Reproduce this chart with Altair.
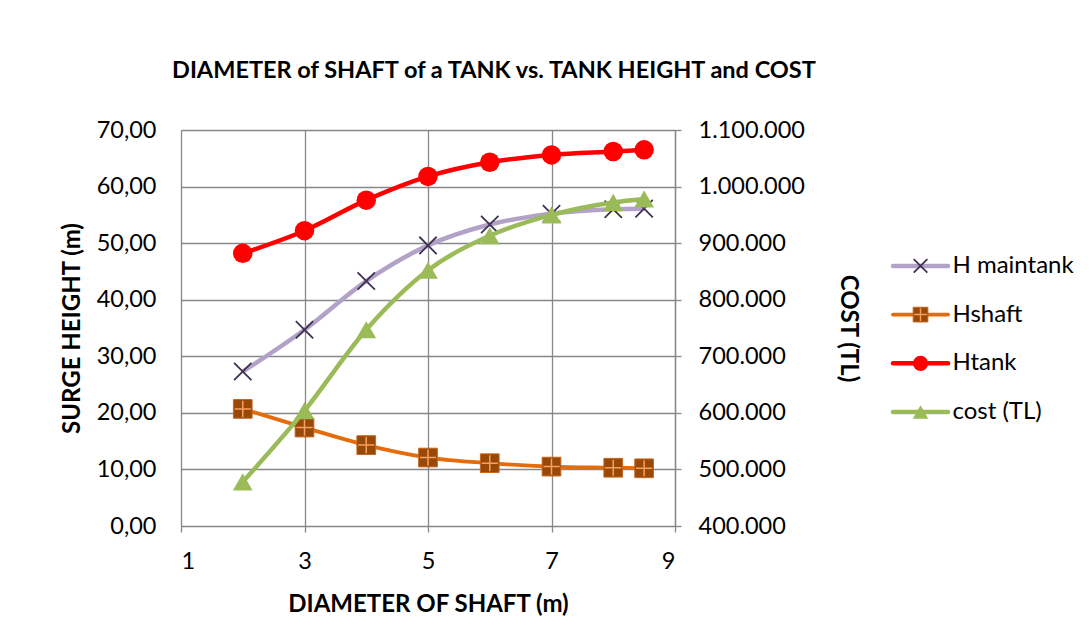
import altair as alt
import pandas as pd

# Shaft diameter (m) and the four measured series
diameter = [2, 3, 4, 5, 6, 7, 8, 8.5]
h_maintank = [27.3, 34.7, 43.3, 49.6, 53.3, 55.2, 56.0, 56.1]
h_shaft = [20.7, 17.4, 14.3, 12.1, 11.1, 10.5, 10.3, 10.2]
h_tank = [48.2, 52.2, 57.6, 61.8, 64.3, 65.6, 66.2, 66.5]
cost_tl = [478000, 604000, 747000, 852000, 913000, 950000, 972000, 978000]

series_names = ["H maintank", "Hshaft", "Htank", "cost (TL)"]
x_ticks = [1, 3, 5, 7, 9]
left_ticks = [0, 10, 20, 30, 40, 50, 60, 70]
right_ticks = [400000, 500000, 600000, 700000, 800000, 900000, 1000000, 1100000]

FONT = "Lato"
GRID = "#878787"
LABEL_SIZE = 23.5
TITLE_SIZE = 24

heights = pd.DataFrame({
    "d": diameter,
    "H maintank": h_maintank,
    "Hshaft": h_shaft,
    "Htank": h_tank,
})
costs = pd.DataFrame({"d": diameter, "cost (TL)": cost_tl})

# Line and marker styling per series
styles = {
    "H maintank": dict(line="#b3a2c7", width=4.5, markers=[
        dict(shape="M-1,-1L1,1M-1,1L1,-1", size=300, filled=False,
             stroke="#3f3151", strokeWidth=1.8),
    ]),
    "Hshaft": dict(line="#e46c0a", width=3.8, markers=[
        dict(shape="square", size=350, filled=True, fill="#984807",
             stroke="#c8661e", strokeWidth=1),
        dict(shape="M-1,0L1,0M0,-1L0,1", size=260, filled=False,
             stroke="#f7a060", strokeWidth=1.5),
    ]),
    "Htank": dict(line="#ff0000", width=4.5, markers=[
        dict(shape="circle", size=380, filled=True, fill="#ff0000",
             stroke="#ff0000", strokeWidth=0),
    ]),
    "cost (TL)": dict(line="#9bbb59", width=4.5, markers=[
        dict(shape="triangle-up", size=390, filled=True, fill="#9bbb59",
             stroke="#9bbb59", strokeWidth=0),
    ]),
}


def marker_layers(base, name, x, y, scale=1.0):
    out = []
    for m in styles[name]["markers"]:
        kw = dict(shape=m["shape"], size=m["size"] * scale, filled=m["filled"],
                  stroke=m["stroke"], strokeWidth=m["strokeWidth"], opacity=1)
        if m["filled"]:
            kw["fill"] = m["fill"]
            kw["fillOpacity"] = 1
        out.append(base.mark_point(**kw).encode(x=x, y=y))
    return out


x_axis = alt.Axis(
    values=x_ticks, title="DIAMETER OF SHAFT (m)", grid=True, gridColor=GRID,
    gridWidth=1.3, domain=False, ticks=True, tickSize=6, tickColor=GRID,
    tickWidth=1.3, labelFont=FONT, labelFontSize=LABEL_SIZE, labelColor="#000000",
    labelPadding=17, titleFont=FONT, titleFontSize=TITLE_SIZE, titleFontWeight="bold",
    titleColor="#000000", titlePadding=20, format="d",
)
x_enc = alt.X("d:Q", scale=alt.Scale(domain=[1, 9], nice=False, zero=False), axis=x_axis)

left_axis = alt.Axis(
    values=left_ticks, title="SURGE HEIGHT (m)", grid=True, gridColor=GRID,
    gridWidth=1.3, domain=False, ticks=False, format=".2f",
    labelFont=FONT, labelFontSize=LABEL_SIZE, labelColor="#000000", labelPadding=25,
    titleFont=FONT, titleFontSize=TITLE_SIZE, titleFontWeight="bold", titleColor="#000000",
    titlePadding=12,
)
right_axis = alt.Axis(
    values=right_ticks, title="COST  (TL)", orient="right", grid=False,
    domain=True, domainColor=GRID, domainWidth=1.3, ticks=True, tickSize=6,
    tickColor=GRID, tickWidth=1.3, format=",.0f",
    labelFont=FONT, labelFontSize=LABEL_SIZE, labelColor="#000000", labelPadding=17,
    titleFont=FONT, titleFontSize=TITLE_SIZE, titleFontWeight="bold", titleColor="#000000",
    titlePadding=31,
)


def y_left(field):
    return alt.Y(f"{field}:Q", scale=alt.Scale(domain=[0, 70], nice=False), axis=left_axis)


y_right = alt.Y("cost (TL):Q", scale=alt.Scale(domain=[400000, 1100000], nice=False),
                axis=right_axis)

hbase = alt.Chart(heights)
left_layers = []
for name in ["H maintank", "Hshaft", "Htank"]:
    st = styles[name]
    left_layers.append(
        hbase.mark_line(color=st["line"], strokeWidth=st["width"], interpolate="monotone")
        .encode(x=x_enc, y=y_left(name))
    )
    left_layers += marker_layers(hbase, name, x_enc, y_left(name))

cbase = alt.Chart(costs)
st = styles["cost (TL)"]
right_layers = [
    cbase.mark_line(color=st["line"], strokeWidth=st["width"], interpolate="monotone")
    .encode(x=x_enc, y=y_right)
] + marker_layers(cbase, "cost (TL)", x_enc, y_right)

plot = alt.layer(
    alt.layer(*left_layers), alt.layer(*right_layers)
).resolve_scale(y="independent").properties(width=494, height=396)

# Legend: a short line with its marker for each series, then the name
legend_df = pd.DataFrame({
    "name": series_names,
    "row": [0, 1, 2, 3],
    "x0": [0.0] * 4,
    "x1": [1.0] * 4,
    "xm": [0.5] * 4,
    "xt": [1.08] * 4,
})
lx = alt.Scale(domain=[0, 3.27], nice=False, zero=False)
ly = alt.Scale(domain=[-2.79, 5.34], nice=False, zero=False, reverse=True)
legend_layers = []
for name in series_names:
    st = styles[name]
    lb = alt.Chart(legend_df).transform_filter(alt.datum.name == name)
    legend_layers.append(
        lb.mark_rule(color=st["line"], strokeWidth=st["width"], strokeCap="round").encode(
            x=alt.X("x0:Q", scale=lx, axis=None), x2="x1:Q",
            y=alt.Y("row:Q", scale=ly, axis=None))
    )
    legend_layers += marker_layers(
        lb, name, alt.X("xm:Q", scale=lx, axis=None),
        alt.Y("row:Q", scale=ly, axis=None), scale=0.62)
legend_layers.append(
    alt.Chart(legend_df).mark_text(align="left", baseline="middle", font=FONT,
                                   fontSize=24, color="#000000").encode(
        x=alt.X("xt:Q", scale=lx, axis=None),
        y=alt.Y("row:Q", scale=ly, axis=None),
        text="name:N")
)
legend = alt.layer(*legend_layers).properties(width=180, height=396)

chart = alt.hconcat(plot, legend, spacing=30).properties(
    title=alt.TitleParams(
        text="DIAMETER of SHAFT of a TANK vs. TANK HEIGHT and COST",
        font=FONT, fontSize=23.5, fontWeight="bold", color="#000000",
        anchor="middle", dx=-73, offset=36,
    ),
    padding={"left": 60, "top": 58, "right": 0, "bottom": 0},
).configure(
    locale={"number": {"decimal": ",", "thousands": ".", "grouping": [3],
                       "currency": ["", " TL"]}},
).configure_view(stroke=None).configure_concat(spacing=30)

chart.save("out.html", embed_options={"renderer": "svg", "actions": False})
